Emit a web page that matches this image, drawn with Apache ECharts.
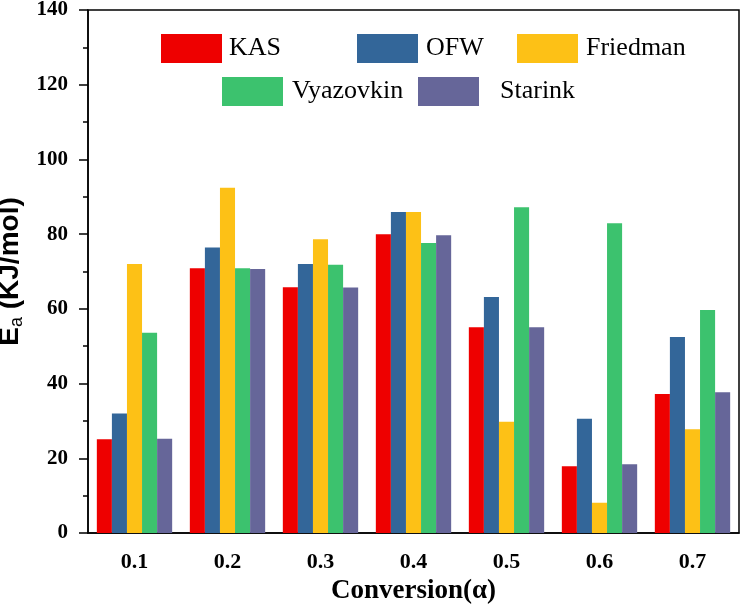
<!DOCTYPE html>
<html>
<head>
<meta charset="utf-8">
<script src="https://cdn.jsdelivr.net/npm/echarts@6/dist/echarts.min.js"></script>
<style>
  html, body { margin: 0; padding: 0; background: #fff; }
  #chart { width: 742px; height: 604px; }
</style>
</head>
<body>
<div id="chart"></div>
<script>
const categories = ['0.1', '0.2', '0.3', '0.4', '0.5', '0.6', '0.7'];
const kas = [25.1, 70.9, 65.8, 80.0, 55.1, 17.9, 37.2];
const ofw = [32.0, 76.4, 72.0, 85.9, 63.2, 30.6, 52.5];
const friedman = [72.0, 92.4, 78.6, 85.9, 29.8, 8.1, 27.8];
const vyazovkin = [53.6, 70.9, 71.8, 77.6, 87.2, 82.9, 59.7];
const starink = [25.2, 70.7, 65.7, 79.7, 55.1, 18.4, 37.7];

const colors = {
  KAS: '#ee0000',
  OFW: '#336699',
  Friedman: '#fdc116',
  Vyazovkin: '#3cc26e',
  Starink: '#666699',
};

const serif = '"Liberation Serif", "Times New Roman", serif';
const sans = '"Liberation Sans", Arial, sans-serif';

const chart = echarts.init(document.getElementById('chart'));

// one legend per entry so each swatch sits where it does in the figure
const legendAt = (name, left, top, extraGap) => ({
  data: [name],
  left: left,
  top: top,
  padding: 0,
  itemWidth: 61,
  itemHeight: 29,
  icon: 'rect',
  selectedMode: false,
  textStyle: { fontFamily: serif, fontSize: 26, color: '#000', padding: [0, 0, 0, extraGap || 0] },
});

const bar = (name, data) => ({
  name: name,
  type: 'bar',
  data: data,
  barGap: 0,
  barCategoryGap: '19%',
  itemStyle: { color: colors[name] },
});

chart.setOption({
  animation: false,
  grid: {
    left: 88, right: 3, top: 10, bottom: 71,
    outerBoundsMode: 'none',
    containLabel: false,
    show: true, borderColor: '#000', borderWidth: 1.5,
  },
  legend: [
    legendAt('KAS', 161, 34, 2),
    legendAt('OFW', 357, 34, 3),
    legendAt('Friedman', 517, 34, 3),
    legendAt('Vyazovkin', 222, 77, 4),
    legendAt('Starink', 418, 77, 16),
  ],
  xAxis: [
    {
      type: 'category',
      data: categories,
      name: 'Conversion(α)',
      nameLocation: 'middle',
      nameGap: 38,
      nameTextStyle: { fontFamily: serif, fontWeight: 'bold', fontSize: 27, color: '#000' },
      axisLine: { lineStyle: { color: '#000', width: 1.5 } },
      axisTick: { alignWithLabel: true, length: 8, lineStyle: { color: '#000', width: 1.5 } },
      axisLabel: { fontFamily: serif, fontWeight: 'bold', fontSize: 22, color: '#000', margin: 18 },
    },
    {
      type: 'category',
      data: categories,
      position: 'bottom',
      axisLine: { show: false },
      axisTick: { length: 5, lineStyle: { color: '#000', width: 1.5 } },
      axisLabel: { show: false },
    },
  ],
  yAxis: {
    type: 'value',
    min: 0,
    max: 140,
    interval: 20,
    name: '{b|E}{s|a}{b| (KJ/mol)}',
    nameLocation: 'middle',
    nameGap: 54,
    nameTextStyle: {
      rich: {
        b: { fontFamily: sans, fontWeight: 'bold', fontSize: 28, color: '#000' },
        s: { fontFamily: sans, fontWeight: 'normal', fontSize: 18, color: '#000', verticalAlign: 'bottom', padding: [13, 0, 0, 0] },
      },
    },
    axisLine: { show: true, lineStyle: { color: '#000', width: 1.5 } },
    axisTick: { show: true, length: 9, lineStyle: { color: '#000', width: 1.5 } },
    minorTick: { show: true, splitNumber: 2, length: 5, lineStyle: { color: '#000', width: 1.5 } },
    splitLine: { show: false },
    axisLabel: { fontFamily: serif, fontWeight: 'bold', fontSize: 21, color: '#000', margin: 20 },
  },
  series: [
    bar('KAS', kas),
    bar('OFW', ofw),
    bar('Friedman', friedman),
    bar('Vyazovkin', vyazovkin),
    bar('Starink', starink),
  ],
});
</script>
</body>
</html>
